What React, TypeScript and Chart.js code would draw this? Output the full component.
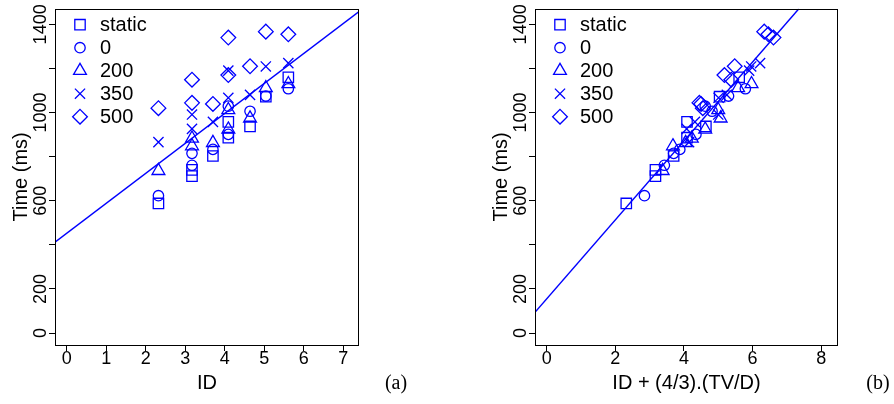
import React, { useEffect, useRef } from "react";
import { Chart, registerables } from "chart.js";

Chart.register(...registerables);

// ---------- data ----------
const conditions = ["static", "0", "200", "350", "500"];
const pointStyles = ["rect", "circle", "triangle", "crossRot", "rectRot"];

// Panel (a): index of difficulty for the nine D/W combinations
const idValues = [2.32, 3.17, 3.17, 3.7, 4.09, 4.09, 4.64, 5.04, 5.61];
// Movement times (ms) per condition, same order as idValues
const timeStatic = [588, 740, 712, 803, 958, 886, 937, 1072, 1160];
const time0 = [623, 815, 761, 833, 1029, 901, 1006, 1075, 1108];
const time200 = [736, 883, 848, 863, 1012, 924, 974, 1112, 1130];
const time350 = [866, 991, 926, 958, 1190, 1067, 1080, 1209, 1224];
const time500 = [1020, 1149, 1044, 1039, 1340, 1170, 1210, 1367, 1355];

// Panel (b): ID + (4/3).(TV/D) per condition, same order
const xbStatic = [2.32, 3.17, 3.17, 3.7, 4.09, 4.09, 4.64, 5.04, 5.61];
const xb0 = [2.85, 3.7, 3.43, 3.88, 4.62, 4.35, 4.82, 5.3, 5.79];
const xb200 = [3.38, 4.23, 3.68, 4.05, 5.0, 4.62, 5.07, 5.58, 5.97];
const xb350 = [4.15, 5.0, 4.08, 4.32, 5.9, 5.01, 5.25, 5.96, 6.22];
const xb500 = [4.55, 5.38, 4.45, 4.5, 6.61, 5.18, 5.48, 6.34, 6.46];

// Regression lines (end points)
const fitAX = [-0.3, 7.4];
const fitAY = [412, 1458];
const fitBX = [-0.34, 7.35];
const fitBY = [94, 1471];

// Axis ticks
const xTicksA = [0, 1, 2, 3, 4, 5, 6, 7];
const xTicksB = [0, 2, 4, 6, 8];
const yTicks = [0, 200, 400, 600, 800, 1000, 1200, 1400];
const yTickLabels = [0, 200, 600, 1000, 1400];

const timesByCond = [timeStatic, time0, time200, time350, time500];
const xbByCond = [xbStatic, xb0, xb200, xb350, xb500];

// ---------- styling ----------
const BLUE = "#0000ff";
const RADII = [7.35, 5.2, 7.4, 7.2, 7.35];
const SANS = '"Liberation Sans", Arial, sans-serif';
const SERIF = '"Liberation Serif", "Times New Roman", serif';

function drawMarker(ctx: CanvasRenderingContext2D, style: string, x: number, y: number, r: number) {
  ctx.beginPath();
  if (style === "rect") {
    const s = r * Math.SQRT1_2;
    ctx.rect(x - s, y - s, 2 * s, 2 * s);
  } else if (style === "circle") {
    ctx.arc(x, y, r, 0, Math.PI * 2);
  } else if (style === "triangle") {
    for (let k = 0; k < 3; k++) {
      const a = (k * 2 * Math.PI) / 3;
      const px = x + Math.sin(a) * r;
      const py = y - Math.cos(a) * r;
      if (k === 0) ctx.moveTo(px, py);
      else ctx.lineTo(px, py);
    }
    ctx.closePath();
  } else if (style === "crossRot") {
    const s = r * Math.SQRT1_2;
    ctx.moveTo(x - s, y - s);
    ctx.lineTo(x + s, y + s);
    ctx.moveTo(x - s, y + s);
    ctx.lineTo(x + s, y - s);
  } else if (style === "rectRot") {
    ctx.moveTo(x, y - r);
    ctx.lineTo(x + r, y);
    ctx.lineTo(x, y + r);
    ctx.lineTo(x - r, y);
    ctx.closePath();
  }
  ctx.stroke();
}

type PanelCfg = {
  xs: number[][];
  ys: number[][];
  fitX: number[];
  fitY: number[];
  xMin: number;
  xMax: number;
  xTicks: number[];
  xTitle: string;
  tag: string;
  tagDx: number;
  leftW: number;
  rightPad: number;
};

function makeChart(canvas: HTMLCanvasElement, p: PanelCfg) {
  const datasets: any[] = conditions.map((c, i) => ({
    type: "scatter",
    label: c,
    data: p.xs[i].map((x, j) => ({ x, y: p.ys[i][j] })),
    pointStyle: pointStyles[i],
    pointRadius: RADII[i],
    pointHoverRadius: RADII[i],
    pointBorderWidth: 1.3,
    pointBackgroundColor: "rgba(0,0,0,0)",
    pointBorderColor: BLUE,
    borderColor: BLUE,
    backgroundColor: "rgba(0,0,0,0)",
  }));
  datasets.push({
    type: "line",
    label: "fit",
    data: p.fitX.map((x, j) => ({ x, y: p.fitY[j] })),
    borderColor: BLUE,
    borderWidth: 1.4,
    pointRadius: 0,
    fill: false,
    tension: 0,
    clip: 0,
  });

  const deco = {
    id: "deco",
    afterDraw(chart: any) {
      const { ctx, chartArea: a, scales } = chart;
      const xs = scales.x;
      const ys = scales.y;
      ctx.save();
      ctx.strokeStyle = "#000";
      ctx.lineWidth = 1;
      ctx.strokeRect(Math.round(a.left) + 0.5, Math.round(a.top) + 0.5, Math.round(a.right - a.left) - 1, Math.round(a.bottom - a.top));
      ctx.fillStyle = "#000";
      // x tick labels
      ctx.font = `18px ${SANS}`;
      ctx.textAlign = "center";
      ctx.textBaseline = "middle";
      p.xTicks.forEach((v) => ctx.fillText(String(v), xs.getPixelForValue(v), a.bottom + 14));
      // y tick labels (rotated)
      yTickLabels.forEach((v) => {
        ctx.save();
        ctx.translate(a.left - 14, ys.getPixelForValue(v));
        ctx.rotate(-Math.PI / 2);
        ctx.fillText(String(v), 0, 0);
        ctx.restore();
      });
      // axis titles
      ctx.font = `20px ${SANS}`;
      ctx.fillText(p.xTitle, (a.left + a.right) / 2, a.bottom + 38);
      ctx.save();
      ctx.translate(a.left - 34, (a.top + a.bottom) / 2);
      ctx.rotate(-Math.PI / 2);
      ctx.fillText("Time (ms)", 0, 0);
      ctx.restore();
      // panel tag
      ctx.font = `20px ${SERIF}`;
      ctx.fillText(p.tag, a.right + p.tagDx, a.bottom + 39);
      // legend
      ctx.strokeStyle = BLUE;
      ctx.lineWidth = 1.3;
      ctx.font = `20px ${SANS}`;
      ctx.textAlign = "left";
      conditions.forEach((c, i) => {
        const yy = a.top + 16 + i * 23;
        drawMarker(ctx, pointStyles[i], a.left + 25, yy, RADII[i]);
        ctx.fillStyle = "#000";
        ctx.fillText(c, a.left + 45, yy + 1);
      });
      ctx.restore();
    },
  };

  const gridCfg = {
    drawOnChartArea: false,
    drawTicks: true,
    tickLength: 6,
    color: "#000",
    lineWidth: 1,
  };

  return new Chart(canvas, {
    type: "scatter",
    data: { datasets },
    options: {
      animation: false,
      responsive: false,
      events: [],
      layout: { padding: { left: 0, right: p.rightPad, top: 7, bottom: 0 } },
      plugins: { legend: { display: false }, tooltip: { enabled: false } },
      scales: {
        x: {
          type: "linear",
          min: p.xMin,
          max: p.xMax,
          ticks: { display: false },
          grid: gridCfg,
          border: { display: false },
          afterBuildTicks: (s: any) => {
            s.ticks = p.xTicks.map((v) => ({ value: v }));
          },
          afterFit: (s: any) => {
            s.height = 59;
          },
        },
        y: {
          type: "linear",
          min: -54,
          max: 1471,
          ticks: { display: false },
          grid: gridCfg,
          border: { display: false },
          afterBuildTicks: (s: any) => {
            s.ticks = yTicks.map((v) => ({ value: v }));
          },
          afterFit: (s: any) => {
            s.width = p.leftW;
          },
        },
      },
    } as any,
    plugins: [deco],
  });
}

const panelA: PanelCfg = {
  xs: conditions.map(() => idValues),
  ys: timesByCond,
  fitX: fitAX,
  fitY: fitAY,
  xMin: -0.3,
  xMax: 7.4,
  xTicks: xTicksA,
  xTitle: "ID",
  tag: "(a)",
  tagDx: 37,
  leftW: 55,
  rightPad: 88,
};

const panelB: PanelCfg = {
  xs: xbByCond,
  ys: timesByCond,
  fitX: fitBX,
  fitY: fitBY,
  xMin: -0.34,
  xMax: 8.49,
  xTicks: xTicksB,
  xTitle: "ID + (4/3).(TV/D)",
  tag: "(b)",
  tagDx: 40,
  leftW: 88,
  rightPad: 56,
};

export default function App() {
  const refA = useRef<HTMLCanvasElement>(null);
  const refB = useRef<HTMLCanvasElement>(null);
  useEffect(() => {
    const ca = makeChart(refA.current!, panelA);
    const cb = makeChart(refB.current!, panelB);
    return () => {
      ca.destroy();
      cb.destroy();
    };
  }, []);
  return (
    <div style={{ position: "fixed", left: 0, top: 0, width: 894, height: 404, background: "#fff", display: "flex" }}>
      <canvas ref={refA} width={447} height={404} style={{ display: "block", width: 447, height: 404 }} />
      <canvas ref={refB} width={447} height={404} style={{ display: "block", width: 447, height: 404 }} />
    </div>
  );
}
